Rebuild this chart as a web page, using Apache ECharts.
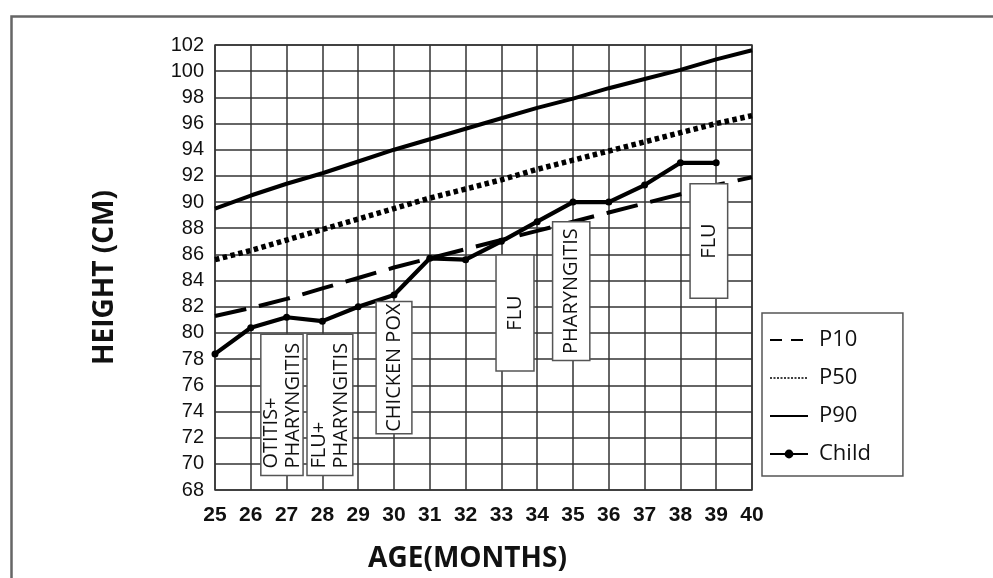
<!DOCTYPE html>
<html>
<head>
<meta charset="utf-8">
<script src="https://cdn.jsdelivr.net/npm/echarts@6/dist/echarts.min.js"></script>
<style>
html,body{margin:0;padding:0;background:#fff;}
#c{width:993px;height:578px;}
</style>
</head>
<body>
<div id="c"></div>
<script>
// ---- data ----
const months = [25,26,27,28,29,30,31,32,33,34,35,36,37,38,39,40];
const p10 = [81.3,81.9,82.6,83.4,84.2,85.0,85.7,86.4,87.1,87.8,88.5,89.2,89.9,90.6,91.3,91.9];
const p50 = [85.6,86.3,87.1,87.9,88.7,89.5,90.3,91.0,91.7,92.5,93.2,93.9,94.6,95.3,96.0,96.6];
const p90 = [89.5,90.5,91.4,92.2,93.1,94.0,94.8,95.6,96.4,97.2,97.9,98.7,99.4,100.1,100.9,101.6];
const childMonths = [25,26,27,28,29,30,31,32,33,34,35,36,37,38,39];
const child = [78.4,80.4,81.2,80.9,82.0,82.9,85.7,85.6,87.0,88.5,90.0,90.0,91.3,93.0,93.0];
const seriesNames = ['P10','P50','P90','Child'];
// annotations: label, month from, month to, height top, height bottom
const noteLabels = ['OTITIS+\nPHARYNGITIS','FLU+\nPHARYNGITIS','CHICKEN POX','FLU','PHARYNGITIS','FLU'];
const noteX0 = [26.28, 27.57, 29.50, 32.85, 34.43, 38.27];
const noteX1 = [27.46, 28.85, 30.50, 33.91, 35.47, 39.32];
const noteYTop = [79.9, 79.9, 82.4, 85.95, 88.5, 91.4];
const noteYBot = [69.1, 69.1, 72.3, 77.1, 77.9, 82.65];

const zip = (xs, ys) => xs.map((x, i) => [x, ys[i]]);
const notes = noteLabels.map((l, i) => [noteX0[i], noteX1[i], noteYTop[i], noteYBot[i], i]);

const chart = echarts.init(document.getElementById('c'), null, {renderer: 'canvas'});
const ink = '#111';
const hidden = {opacity: 0};
chart.setOption({
  animation: false,
  backgroundColor: '#fff',
  graphic: [{
    type: 'rect', left: 9, top: 14, z: -10,
    shape: {width: 1000, height: 600},
    style: {fill: 'none', stroke: '#666', lineWidth: 2.5}
  }],
  grid: {left: 215, top: 45, width: 537, height: 445, show: true, borderColor: '#3c3c3c', borderWidth: 1.5, backgroundColor: 'transparent'},
  xAxis: {
    type: 'value', min: 25, max: 40, interval: 1,
    name: 'AGE(MONTHS)', nameLocation: 'middle', nameGap: 55,
    nameTextStyle: {fontFamily: 'Open Sans', fontWeight: 'bold', fontSize: 28, color: ink, padding: [0, 32, 0, 0]},
    axisLine: {show: false}, axisTick: {show: false},
    axisLabel: {fontFamily: 'Liberation Sans', fontWeight: 'bold', fontSize: 21, color: ink, margin: 15},
    splitLine: {show: true, lineStyle: {color: '#333', width: 1.5}}
  },
  yAxis: {
    type: 'value', min: 68, max: 102, interval: 2,
    name: 'HEIGHT (CM)', nameLocation: 'middle', nameGap: 96, nameRotate: 90,
    nameTextStyle: {fontFamily: 'Open Sans', fontWeight: 'bold', fontSize: 28, color: ink, padding: [0, 20, 0, 0]},
    axisLine: {show: false}, axisTick: {show: false},
    axisLabel: {fontFamily: 'Liberation Sans', fontSize: 20, color: ink, margin: 11},
    splitLine: {show: true, lineStyle: {color: '#333', width: 1.5}}
  },
  legend: {
    orient: 'vertical', left: 762, top: 313,
    backgroundColor: '#fff', borderColor: '#555', borderWidth: 1.5, borderRadius: 0,
    padding: [16, 32, 11, 7], itemWidth: 38, itemHeight: 11, itemGap: 16,
    textStyle: {fontFamily: 'Open Sans', fontSize: 22, color: ink, padding: [0, 0, 0, 6]},
    data: [
      {name: 'P10', lineStyle: {width: 2, type: [12, 9]}, itemStyle: hidden},
      {name: 'P50', lineStyle: {width: 1.5, type: [2, 1.5]}, itemStyle: hidden},
      {name: 'P90', lineStyle: {width: 2, type: 'solid'}, itemStyle: hidden},
      {name: 'Child', lineStyle: {width: 2, type: 'solid'}}
    ]
  },
  series: [
    {name: seriesNames[0], type: 'line', data: zip(months, p10), showSymbol: false, symbol: 'none',
     lineStyle: {color: '#000', width: 4, type: [32, 13], cap: 'butt'}, itemStyle: {color: '#000'}, z: 2},
    {name: seriesNames[1], type: 'line', data: zip(months, p50), showSymbol: false, symbol: 'none',
     lineStyle: {color: '#000', width: 5.5, type: [4.5, 3.5], cap: 'butt'}, itemStyle: {color: '#000'}, z: 2},
    {name: seriesNames[2], type: 'line', data: zip(months, p90), showSymbol: false, symbol: 'none',
     lineStyle: {color: '#000', width: 4}, itemStyle: {color: '#000'}, z: 2},
    {name: seriesNames[3], type: 'line', data: zip(childMonths, child), symbol: 'circle', symbolSize: 7,
     lineStyle: {color: '#000', width: 4.2}, itemStyle: {color: '#000'}, z: 2},
    {
      type: 'custom', z: 5, silent: true,
      encode: {x: [0, 1], y: [2, 3]},
      data: notes,
      renderItem: function (params, api) {
        const i = api.value(4);
        const p0 = api.coord([api.value(0), api.value(2)]);
        const p1 = api.coord([api.value(1), api.value(3)]);
        const label = noteLabels[i];
        const multi = label.indexOf('\n') >= 0;
        const cx = (p0[0] + p1[0]) / 2;
        return {
          type: 'group',
          children: [
            {type: 'rect', shape: {x: p0[0], y: p0[1], width: p1[0] - p0[0], height: p1[1] - p0[1]},
             style: {fill: '#fff', stroke: '#555', lineWidth: 1.5}},
            {type: 'text', x: cx, y: multi ? p1[1] - 7 : (p0[1] + p1[1]) / 2, rotation: Math.PI / 2,
             style: {text: label, fill: ink, font: '20px "Open Sans"', lineHeight: 22,
                     align: multi ? 'left' : 'center', verticalAlign: 'middle'}}
          ]
        };
      }
    }
  ]
});
</script>
</body>
</html>
